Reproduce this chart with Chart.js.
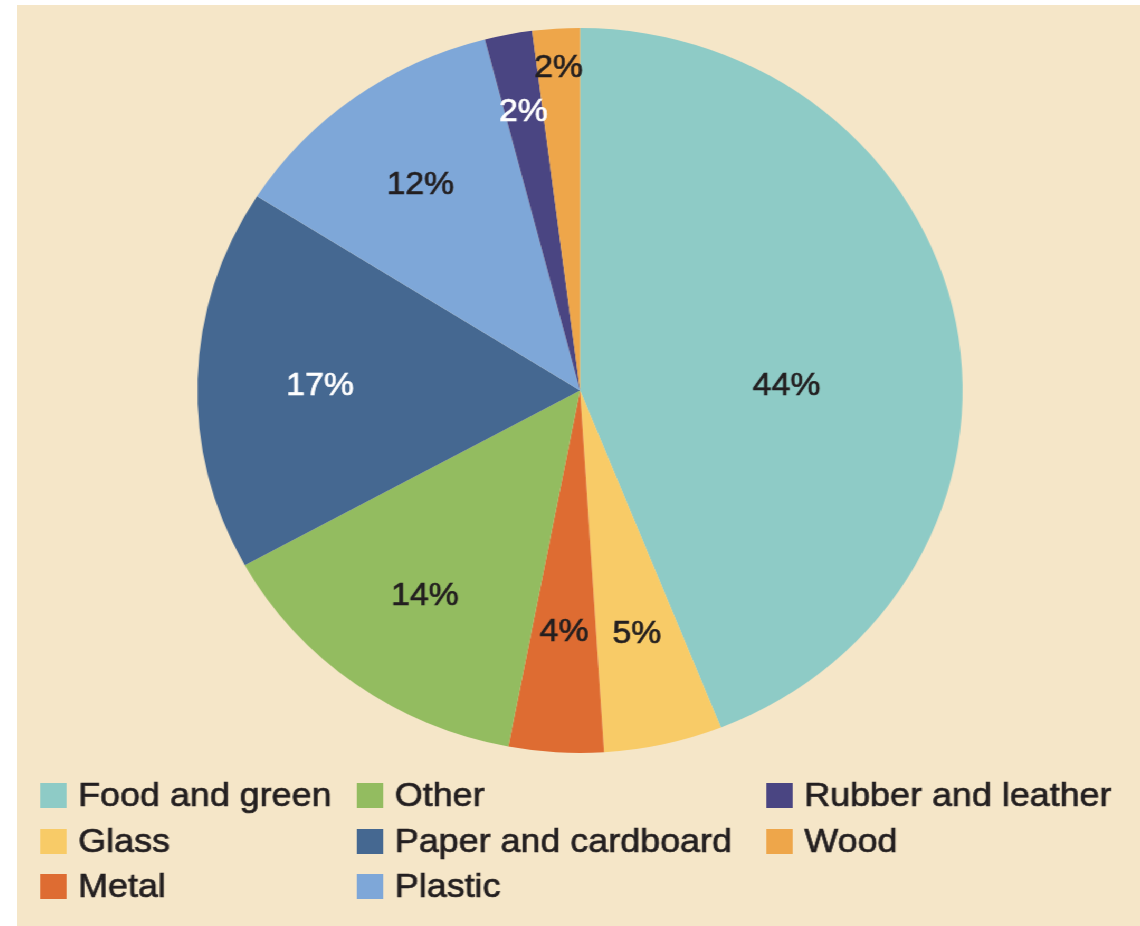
<!DOCTYPE html>
<html>
<head>
<meta charset="utf-8">
<script src="https://cdn.jsdelivr.net/npm/chart.js@4"></script>
<style>
  body { margin: 0; background: #ffffff; }
  #wrap {
    position: absolute; left: 17px; top: 5px;
    width: 1064px; height: 921px;
    background: #F5E6C8;
    transform: scaleX(1.0554); transform-origin: 0 0;
  }
</style>
</head>
<body>
<div id="wrap"><canvas id="chart"></canvas></div>
<script>
const categories = ["Food and green", "Glass", "Metal", "Other", "Paper and cardboard", "Plastic", "Rubber and leather", "Wood"];
const shares = [44, 5, 4, 14, 17, 12, 2, 2];
const sliceColors = ["#8ECBC6", "#F8CB67", "#DE6C32", "#93BC60", "#456891", "#7EA7D8", "#4A4582", "#EEA64A"];
const labelColors = ["#231f20", "#231f20", "#231f20", "#231f20", "#ffffff", "#231f20", "#ffffff", "#231f20"];

// where each percent label sits inside its slice (fraction of radius, angle nudge in degrees)
const labelRadius = [0.54, 0.68, 0.66, 0.69, 0.68, 0.71, 0.79, 0.90];
const labelNudge = [8.6, 0, 0, 0, 0, 0, 0, 0];

const FONT = '"Liberation Sans", Arial, sans-serif';

// fill plus a hairline stroke so the text looks a bit heavier, like the print original
function heavyText(ctx, txt, x, y, color) {
  ctx.fillStyle = color;
  ctx.strokeStyle = color;
  ctx.lineWidth = 0.7;
  ctx.fillText(txt, x, y);
  ctx.strokeText(txt, x, y);
}

const sliceLabels = {
  id: "sliceLabels",
  afterDatasetsDraw(chart) {
    const ctx = chart.ctx;
    const meta = chart.getDatasetMeta(0);
    ctx.save();
    ctx.font = "32px " + FONT;
    ctx.textAlign = "center";
    ctx.textBaseline = "middle";
    meta.data.forEach((arc, i) => {
      const p = arc.getProps(["x", "y", "startAngle", "endAngle", "outerRadius"], true);
      const mid = (p.startAngle + p.endAngle) / 2 + labelNudge[i] * Math.PI / 180;
      const r = p.outerRadius * labelRadius[i];
      heavyText(ctx, shares[i] + "%", p.x + Math.cos(mid) * r, p.y + Math.sin(mid) * r + 3, labelColors[i]);
    });
    ctx.restore();
  }
};

// three column legend, filled top to bottom
const columnLegend = {
  id: "columnLegend",
  afterDraw(chart) {
    const ctx = chart.ctx;
    const colX = [22, 322, 710];
    const rowY = [778, 824, 869];
    const box = 25;
    ctx.save();
    ctx.font = "34px " + FONT;
    ctx.textBaseline = "middle";
    ctx.textAlign = "left";
    chart.data.labels.forEach((lab, i) => {
      const col = Math.floor(i / 3);
      const row = i % 3;
      const x = colX[col], y = rowY[row];
      ctx.fillStyle = chart.data.datasets[0].backgroundColor[i];
      ctx.fillRect(x, y, box, box);
      heavyText(ctx, lab, x + box + 11, y + box / 2 + 1, "#231f20");
    });
    ctx.restore();
  }
};

const ctx = document.getElementById("chart").getContext("2d");
const myChart = new Chart(ctx, {
  type: "pie",
  data: {
    labels: categories,
    datasets: [{
      data: shares,
      backgroundColor: sliceColors,
      borderWidth: 0,
      hoverOffset: 0
    }]
  },
  options: {
    responsive: true,
    maintainAspectRatio: false,
    animation: false,
    devicePixelRatio: 1,
    layout: { padding: { left: 171, right: 168, top: 23, bottom: 173 } },
    plugins: {
      legend: { display: false },
      tooltip: { enabled: false }
    }
  },
  plugins: [sliceLabels, columnLegend]
});
</script>
</body>
</html>
